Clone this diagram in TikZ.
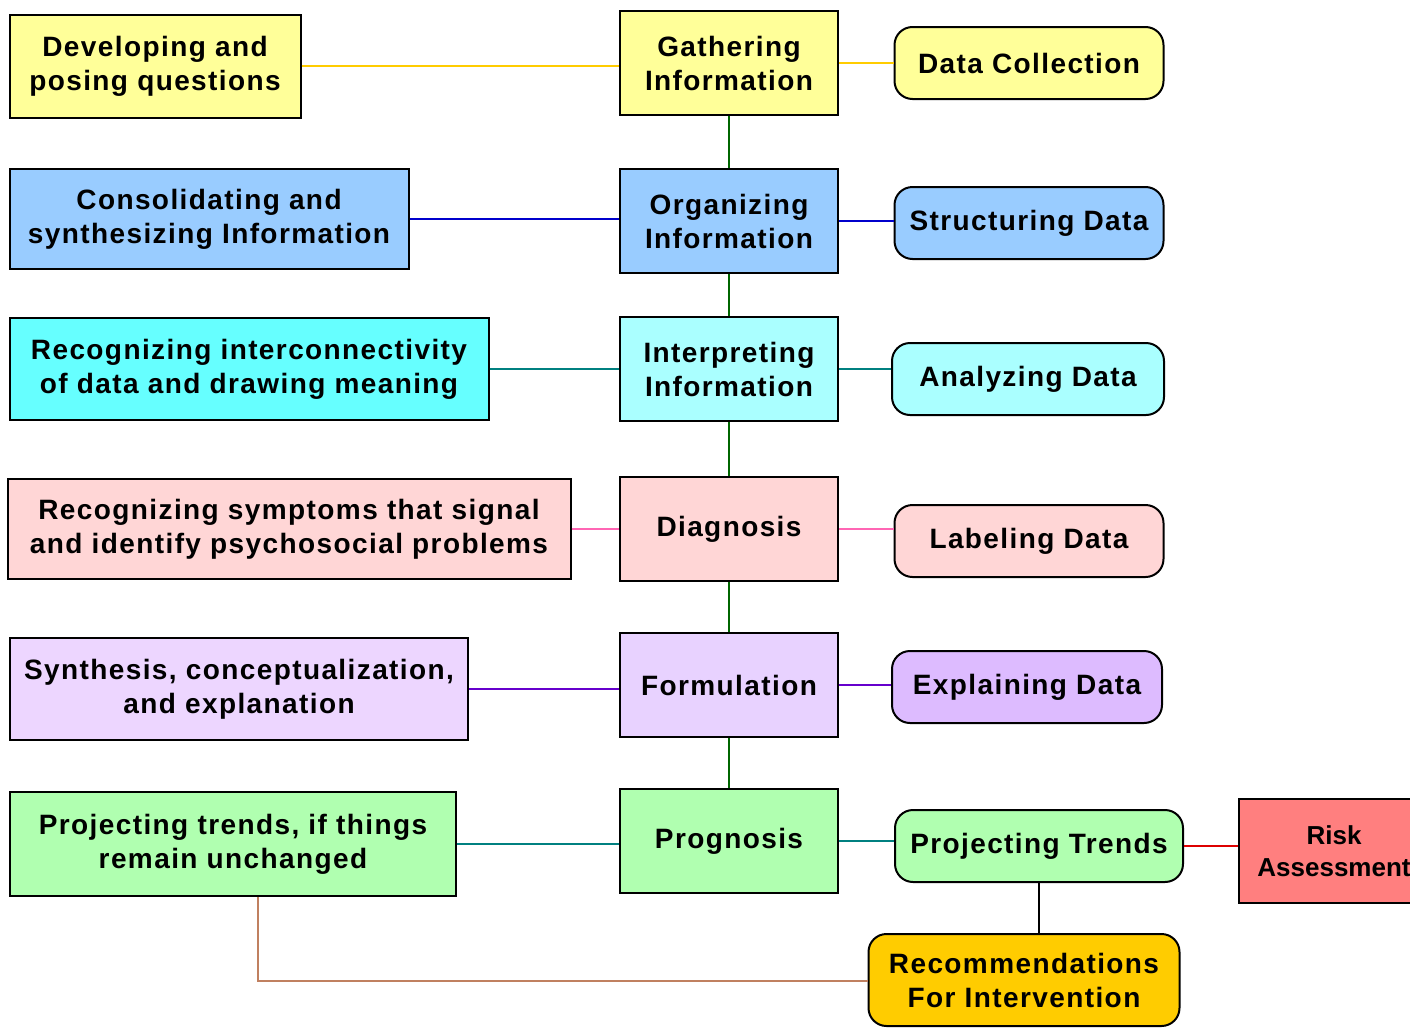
\documentclass[tikz,border=0pt]{standalone}
\usepackage{fontspec}
\setmainfont{Liberation Sans}[LetterSpace=5]

\definecolor{yellowBox}{HTML}{FFFF99}
\definecolor{blueBox}{HTML}{99CCFF}
\definecolor{cyanLeft}{HTML}{66FFFF}
\definecolor{cyanBox}{HTML}{AAFFFF}
\definecolor{pinkBox}{HTML}{FFD6D6}
\definecolor{lilacLeft}{HTML}{EDD6FF}
\definecolor{lilacBox}{HTML}{E8D2FF}
\definecolor{lilacRight}{HTML}{DDBBFF}
\definecolor{greenBox}{HTML}{B0FFB0}
\definecolor{redBox}{HTML}{FF7F7F}
\definecolor{orangeBox}{HTML}{FFCC00}
\definecolor{lineGold}{HTML}{FFCC00}
\definecolor{lineBlue}{HTML}{0000CC}
\definecolor{lineTeal}{HTML}{008080}
\definecolor{linePink}{HTML}{FF66B4}
\definecolor{linePurple}{HTML}{6600CC}
\definecolor{lineGreen}{HTML}{006600}
\definecolor{lineRed}{HTML}{DD0000}
\definecolor{lineBrown}{HTML}{C08060}

\begin{document}
\begin{tikzpicture}
[x=1pt,y=-1pt,
  boxDecorate/.style={shape=rectangle,draw,line width=2pt,inner sep=0pt,align=center,%
    font=\bfseries\fontsize{28}{34}\selectfont},%
  roundDecorate/.style={boxDecorate,rounded corners=18pt},%
  lineDecorate/.style={line width=1.8pt}]
\useasboundingbox (0,0) rectangle (1410,1028);
\clip (0,0) rectangle (1410,1028);
%% left boxes
\foreach \nodename/\x/\y/\w/\h/\col/\txt in {
  l1/155/66/291/103/yellowBox/{Developing and\\posing questions},
  l2/209/219/399/100/blueBox/{Consolidating and\\synthesizing Information},
  l3/249/369/479/102/cyanLeft/{Recognizing interconnectivity\\of data and drawing meaning},
  l4/289/529/563/100/pinkBox/{Recognizing symptoms that signal\\and identify psychosocial problems},
  l5/239/689/458/102/lilacLeft/{Synthesis, conceptualization,\\and explanation},
  l6/233/844/446/104/greenBox/{Projecting trends, if things\\remain unchanged}}
{
  \node (\nodename) at (\x,\y) [boxDecorate,fill=\col,minimum width=\w,minimum height=\h] {\txt};
}
%% middle boxes
\foreach \nodename/\y/\col/\txt in {
  m1/63/yellowBox/{Gathering\\Information},
  m2/221/blueBox/{Organizing\\Information},
  m3/369/cyanBox/{Interpreting\\Information},
  m4/529/pinkBox/{Diagnosis},
  m5/685/lilacBox/{Formulation},
  m6/841/greenBox/{Prognosis}}
{
  \node (\nodename) at (729,\y) [boxDecorate,fill=\col,minimum width=218,minimum height=104] {\txt};
}
%% right boxes
\foreach \nodename/\x/\y/\w/\col/\txt in {
  r1/1029/63/269/yellowBox/{Data Collection},
  r2/1029/223/269/blueBox/{Structuring Data},
  r3/1028/379/272/cyanBox/{Analyzing Data},
  r4/1029/541/269/pinkBox/{Labeling Data},
  r5/1027/687/270/lilacRight/{Explaining Data},
  r6/1039/846/288/greenBox/{Projecting Trends}}
{
  \node (\nodename) at (\x,\y) [roundDecorate,fill=\col,minimum width=\w,minimum height=72] {\txt};
}
\node (risk) at (1334,851) [boxDecorate,fill=redBox,minimum width=190,minimum height=104,%
  font=\bfseries\fontsize{26}{32}\selectfont\addfontfeatures{LetterSpace=0}] {Risk\\Assessment};
\node (rec) at (1024,980) [roundDecorate,fill=orangeBox,minimum width=311,minimum height=92] {Recommendations\\For Intervention};
\coordinate (turn) at (258,981);
%% edges or lines
\foreach \startnode/\endnode/\col in {
  l1/m1/lineGold, m1/r1/lineGold, l2/m2/lineBlue, m2/r2/lineBlue,
  l3/m3/lineTeal, m3/r3/lineTeal, l4/m4/linePink, m4/r4/linePink,
  l5/m5/linePurple, m5/r5/linePurple, l6/m6/lineTeal, m6/r6/lineTeal,
  r6/risk/lineRed}
{
  \draw[lineDecorate,\col] (\startnode) -- (\startnode -| \endnode.west);
}
\foreach \startnode/\endnode in {m1/m2, m2/m3, m3/m4, m4/m5, m5/m6}
{
  \draw[lineDecorate,lineGreen] (\startnode) -- (\startnode |- \endnode.north);
}
\draw[lineDecorate] (r6) -- (r6 |- rec.north);
\draw[lineDecorate,lineBrown] (turn |- l6.south) -- (turn) -- (rec.west |- turn);
\end{tikzpicture}
\end{document}
